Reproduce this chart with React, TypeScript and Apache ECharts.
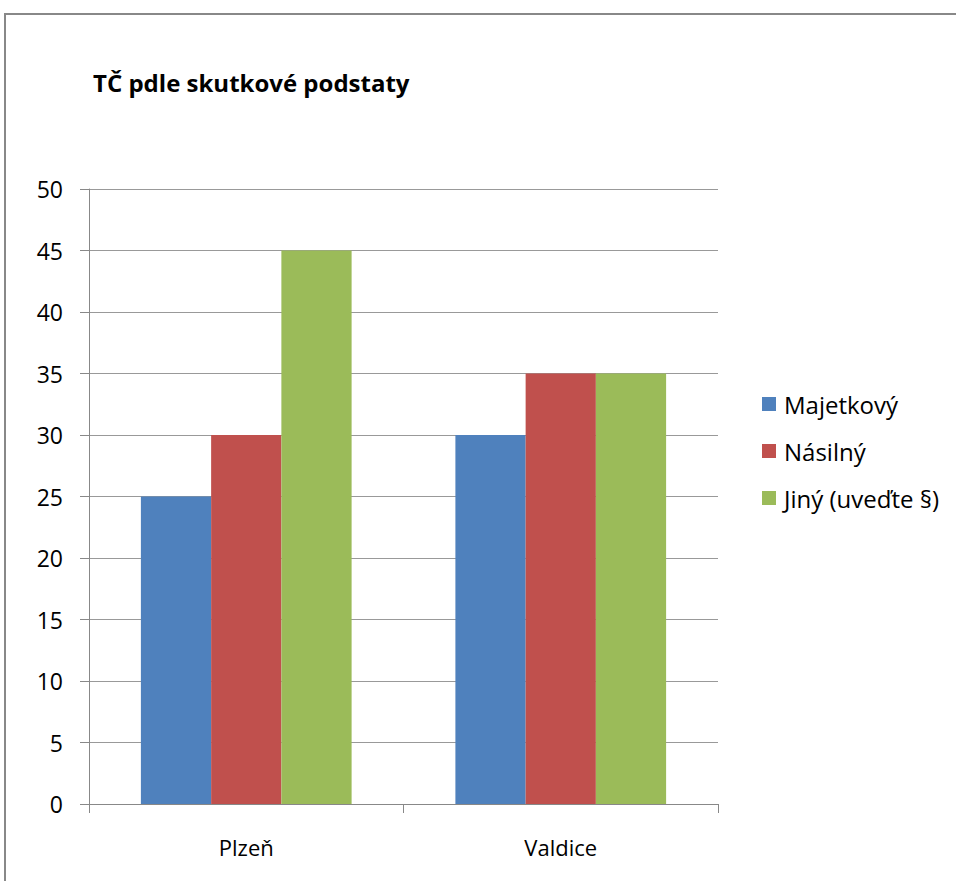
import React, { useEffect, useRef } from "react";
import * as echarts from "echarts";

const categories = ["Plzeň", "Valdice"];
const seriesNames = ["Majetkový", "Násilný", "Jiný (uveďte §)"];
const majetkovy = [25, 30];
const nasilny = [30, 35];
const jiny = [45, 35];
const colors = ["#4F81BD", "#C0504D", "#9BBB59"];
const titleText = "TČ pdle skutkové podstaty";

const FONT = "'Open Sans', 'Noto Sans', sans-serif";

export default function App() {
  const ref = useRef<HTMLDivElement>(null);
  useEffect(() => {
    if (!ref.current) return;
    const chart = echarts.init(ref.current, undefined, { renderer: "svg" });
    const values = [majetkovy, nasilny, jiny];
    chart.setOption({
      animation: false,
      backgroundColor: "#ffffff",
      title: {
        text: titleText,
        left: 93,
        top: 70,
        padding: 0,
        textStyle: { fontFamily: FONT, fontSize: 24, fontWeight: "bold", color: "#000" },
      },
      legend: {
        orient: "vertical",
        left: 762,
        top: 392,
        padding: 0,
        itemWidth: 14,
        itemHeight: 14,
        itemGap: 23,
        icon: "rect",
        textStyle: { fontFamily: FONT, fontSize: 24, color: "#000", padding: [0, 0, 0, 3] },
        data: seriesNames,
      },
      grid: { left: 89, right: 238, top: 189, bottom: 77, containLabel: false },
      xAxis: {
        type: "category",
        data: categories,
        axisLine: { lineStyle: { color: "#888", width: 1 } },
        axisTick: { show: true, length: 9, lineStyle: { color: "#888" } },
        axisLabel: { fontFamily: FONT, fontSize: 22, color: "#000", margin: 32 },
      },
      yAxis: {
        type: "value",
        min: 0,
        max: 50,
        interval: 5,
        axisLine: { show: true, lineStyle: { color: "#888", width: 1 } },
        axisTick: { show: true, length: 9, lineStyle: { color: "#888" } },
        axisLabel: { fontFamily: FONT, fontSize: 23, color: "#000", margin: 26 },
        splitLine: { show: true, lineStyle: { color: "#999", width: 1 } },
      },
      series: seriesNames.map((name, i) => ({
        name,
        type: "bar",
        data: values[i],
        barGap: "0%",
        barCategoryGap: "33%",
        itemStyle: { color: colors[i] },
      })),
      graphic: [
        {
          type: "polyline",
          shape: { points: [[5, 881], [5, 14], [956, 14]] },
          style: { stroke: "#888", lineWidth: 2, fill: "none" },
          silent: true,
        },
      ],
    });
    return () => chart.dispose();
  }, []);
  return (
    <div
      ref={ref}
      style={{ position: "fixed", left: 0, top: 0, width: 956, height: 881 }}
    />
  );
}
